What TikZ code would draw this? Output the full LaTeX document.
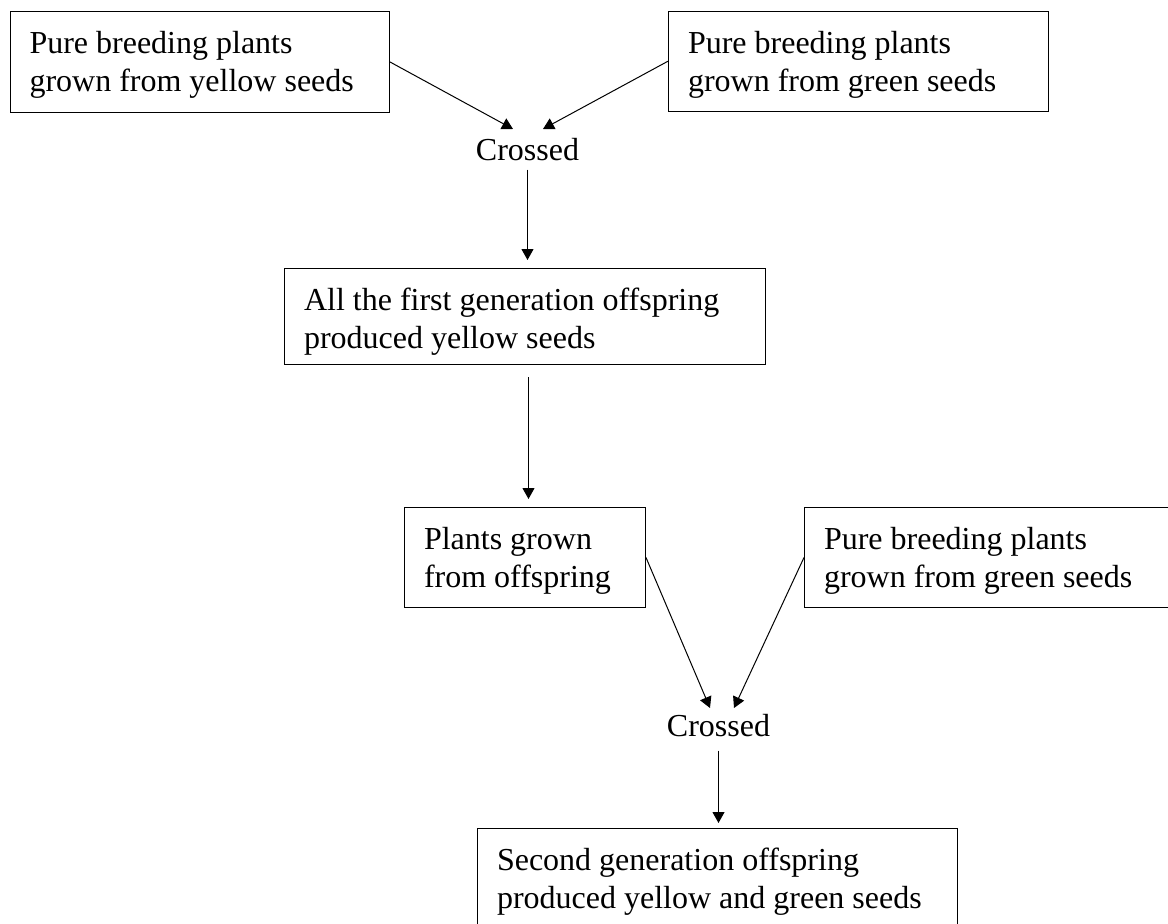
\documentclass[tikz,border=0pt]{standalone}
\usepackage{fontspec}
\setmainfont{Liberation Serif}
\usetikzlibrary{arrows.meta,calc}
\tikzset{
  box/.style={draw, line width=1pt, inner xsep=19.5pt, inner ysep=15pt, anchor=north west, font=\fontsize{32}{38.5}\selectfont},
  lbl/.style={inner sep=0pt, anchor=base, font=\fontsize{32}{38.5}\selectfont},
  arr/.style={line width=1pt, -{Triangle[width=12pt,length=11pt]}},
}
\newcommand{\boxtext}[3]{\parbox[c][#1][t]{#2}{\strut #3}}
\begin{document}
\begin{tikzpicture}[x=1pt,y=-1pt]
\useasboundingbox (0,0) rectangle (1168,924);
\clip (0,0) rectangle (1168,924);
\node[box] (box1) at (9.5,10.7) {\boxtext{71pt}{340pt}{Pure breeding plants\\grown from yellow seeds}};
\node[box] (box2) at (668,10.7) {\boxtext{70pt}{341pt}{Pure breeding plants\\grown from green seeds}};
\node[lbl] (cross1) at (527.5,160) {Crossed};
\node[box] (box3) at (284,268) {\boxtext{66pt}{442pt}{All the first generation offspring\\produced yellow seeds}};
\node[box] (box4) at (404,507) {\boxtext{70pt}{202pt}{Plants grown\\from offspring}};
\node[box] (box5) at (804,507) {\boxtext{70pt}{361pt}{Pure breeding plants\\grown from green seeds}};
\node[lbl] (cross2) at (718.5,736) {Crossed};
\node[box] (box6) at (477,828) {\boxtext{80pt}{441pt}{Second generation offspring\\produced yellow and green seeds}};
\coordinate (t1) at (513,129);
\coordinate (t2) at (543,129);
\coordinate (t3) at (710,708);
\coordinate (t4) at (734,708);
\draw[arr] (box1.east) -- (t1);
\draw[arr] (box2.west) -- (t2);
\draw[arr, shorten <=9pt, shorten >=8pt] (cross1.south) -- (cross1.south |- box3.north);
\draw[arr, shorten <=12pt, shorten >=8pt] ([xshift=3.5pt]box3.south) -- ([xshift=3.5pt]box4.north);
\draw[arr] (box4.east) -- (t3);
\draw[arr] (box5.west) -- (t4);
\draw[arr, shorten <=14pt, shorten >=5pt] (cross2.south) -- (cross2.south |- box6.north);
\end{tikzpicture}
\end{document}
